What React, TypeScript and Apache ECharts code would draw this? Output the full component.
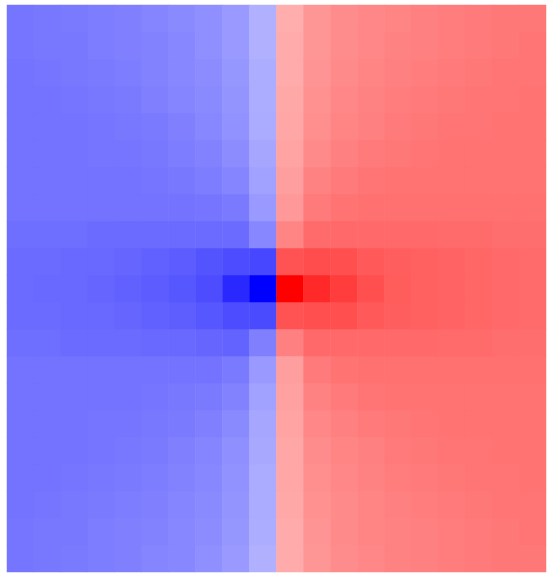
import React, { useEffect, useRef } from "react";
import * as echarts from "echarts";

// column and row labels (grid positions)
const colLabels: string[] = [
  "-9.5", "-8.5", "-7.5", "-6.5", "-5.5", "-4.5", "-3.5", "-2.5", "-1.5", "-0.5",
  "0.5", "1.5", "2.5", "3.5", "4.5", "5.5", "6.5", "7.5", "8.5", "9.5",
];
const rowLabels: string[] = [
  "10", "9", "8", "7", "6", "5", "4", "3", "2", "1", "0",
  "-1", "-2", "-3", "-4", "-5", "-6", "-7", "-8", "-9", "-10",
];

// field values, top row first, left column first
const fieldRows: number[][] = [
  [-0.54, -0.53, -0.52, -0.51, -0.50, -0.48, -0.47, -0.44, -0.40, -0.31, 0.33, 0.41, 0.45, 0.47, 0.49, 0.50, 0.51, 0.52, 0.53, 0.53],
  [-0.54, -0.53, -0.53, -0.51, -0.50, -0.49, -0.47, -0.45, -0.41, -0.32, 0.33, 0.42, 0.46, 0.48, 0.49, 0.50, 0.51, 0.52, 0.53, 0.54],
  [-0.55, -0.54, -0.53, -0.52, -0.51, -0.50, -0.48, -0.46, -0.42, -0.33, 0.34, 0.43, 0.46, 0.48, 0.50, 0.51, 0.52, 0.53, 0.54, 0.54],
  [-0.55, -0.55, -0.54, -0.53, -0.52, -0.51, -0.49, -0.47, -0.43, -0.33, 0.35, 0.44, 0.47, 0.49, 0.51, 0.52, 0.53, 0.54, 0.54, 0.55],
  [-0.55, -0.55, -0.55, -0.54, -0.53, -0.52, -0.50, -0.48, -0.44, -0.34, 0.35, 0.45, 0.48, 0.50, 0.52, 0.53, 0.54, 0.54, 0.55, 0.55],
  [-0.55, -0.55, -0.55, -0.54, -0.54, -0.53, -0.52, -0.50, -0.46, -0.35, 0.36, 0.47, 0.50, 0.52, 0.53, 0.54, 0.55, 0.55, 0.55, 0.55],
  [-0.55, -0.55, -0.55, -0.55, -0.55, -0.54, -0.53, -0.52, -0.49, -0.37, 0.37, 0.49, 0.52, 0.54, 0.55, 0.55, 0.55, 0.55, 0.55, 0.55],
  [-0.55, -0.55, -0.55, -0.55, -0.55, -0.55, -0.55, -0.55, -0.52, -0.40, 0.38, 0.52, 0.55, 0.56, 0.56, 0.56, 0.56, 0.56, 0.56, 0.56],
  [-0.57, -0.57, -0.58, -0.58, -0.58, -0.59, -0.59, -0.60, -0.61, -0.50, 0.50, 0.59, 0.59, 0.59, 0.59, 0.59, 0.58, 0.58, 0.57, 0.57],
  [-0.58, -0.58, -0.59, -0.59, -0.60, -0.62, -0.63, -0.66, -0.70, -0.71, 0.68, 0.69, 0.69, 0.65, 0.63, 0.62, 0.61, 0.60, 0.59, 0.58],
  [-0.58, -0.59, -0.59, -0.60, -0.62, -0.64, -0.66, -0.70, -0.84, -1.00, 1.00, 0.84, 0.76, 0.69, 0.64, 0.62, 0.61, 0.60, 0.59, 0.58],
  [-0.58, -0.58, -0.59, -0.59, -0.60, -0.62, -0.64, -0.67, -0.70, -0.72, 0.68, 0.70, 0.69, 0.65, 0.63, 0.62, 0.61, 0.60, 0.59, 0.58],
  [-0.57, -0.57, -0.57, -0.58, -0.58, -0.58, -0.58, -0.58, -0.58, -0.47, 0.48, 0.58, 0.59, 0.59, 0.59, 0.59, 0.58, 0.58, 0.57, 0.57],
  [-0.55, -0.55, -0.55, -0.55, -0.55, -0.55, -0.55, -0.54, -0.52, -0.40, 0.40, 0.52, 0.55, 0.56, 0.56, 0.56, 0.56, 0.56, 0.56, 0.56],
  [-0.55, -0.55, -0.55, -0.55, -0.55, -0.54, -0.53, -0.51, -0.48, -0.37, 0.38, 0.49, 0.52, 0.54, 0.55, 0.55, 0.55, 0.55, 0.55, 0.55],
  [-0.55, -0.55, -0.55, -0.54, -0.54, -0.53, -0.51, -0.49, -0.45, -0.35, 0.36, 0.46, 0.50, 0.52, 0.53, 0.54, 0.55, 0.55, 0.55, 0.55],
  [-0.55, -0.55, -0.55, -0.54, -0.53, -0.52, -0.50, -0.47, -0.43, -0.33, 0.35, 0.44, 0.48, 0.50, 0.52, 0.53, 0.54, 0.54, 0.55, 0.55],
  [-0.55, -0.55, -0.54, -0.53, -0.52, -0.50, -0.48, -0.46, -0.42, -0.32, 0.34, 0.43, 0.47, 0.49, 0.51, 0.52, 0.53, 0.54, 0.54, 0.55],
  [-0.55, -0.54, -0.53, -0.52, -0.51, -0.49, -0.47, -0.45, -0.41, -0.32, 0.33, 0.42, 0.46, 0.48, 0.50, 0.51, 0.52, 0.53, 0.54, 0.54],
  [-0.54, -0.53, -0.53, -0.51, -0.50, -0.49, -0.47, -0.44, -0.40, -0.31, 0.33, 0.41, 0.45, 0.47, 0.49, 0.50, 0.51, 0.52, 0.53, 0.54],
  [-0.54, -0.53, -0.52, -0.51, -0.50, -0.48, -0.46, -0.44, -0.40, -0.31, 0.32, 0.41, 0.45, 0.47, 0.48, 0.50, 0.51, 0.52, 0.53, 0.53],
];

const scaleColors: string[] = ["#0000ff", "#ffffff", "#ff0000"];

export default function App() {
  const ref = useRef<HTMLDivElement>(null);

  useEffect(() => {
    if (!ref.current) return;
    const chart = echarts.init(ref.current, undefined, { renderer: "svg" });
    const data: [number, number, number][] = [];
    fieldRows.forEach((row, yi) => {
      row.forEach((v, xi) => {
        data.push([xi, yi, v]);
      });
    });
    chart.setOption({
      animation: false,
      backgroundColor: "#ffffff",
      grid: { left: 7, top: 5, width: 539, height: 567, containLabel: false },
      xAxis: {
        type: "category",
        data: colLabels,
        show: false,
      },
      yAxis: {
        type: "category",
        data: rowLabels,
        show: false,
      },
      visualMap: {
        type: "continuous",
        show: false,
        min: -1,
        max: 1,
        dimension: 2,
        inRange: { color: scaleColors },
      },
      series: [
        {
          type: "heatmap",
          data,
          itemStyle: { borderWidth: 0 },
          emphasis: { disabled: true },
          progressive: 0,
        },
      ],
    });
    return () => chart.dispose();
  }, []);

  return (
    <div
      ref={ref}
      style={{ position: "absolute", left: 0, top: 0, width: 547, height: 576 }}
    />
  );
}
